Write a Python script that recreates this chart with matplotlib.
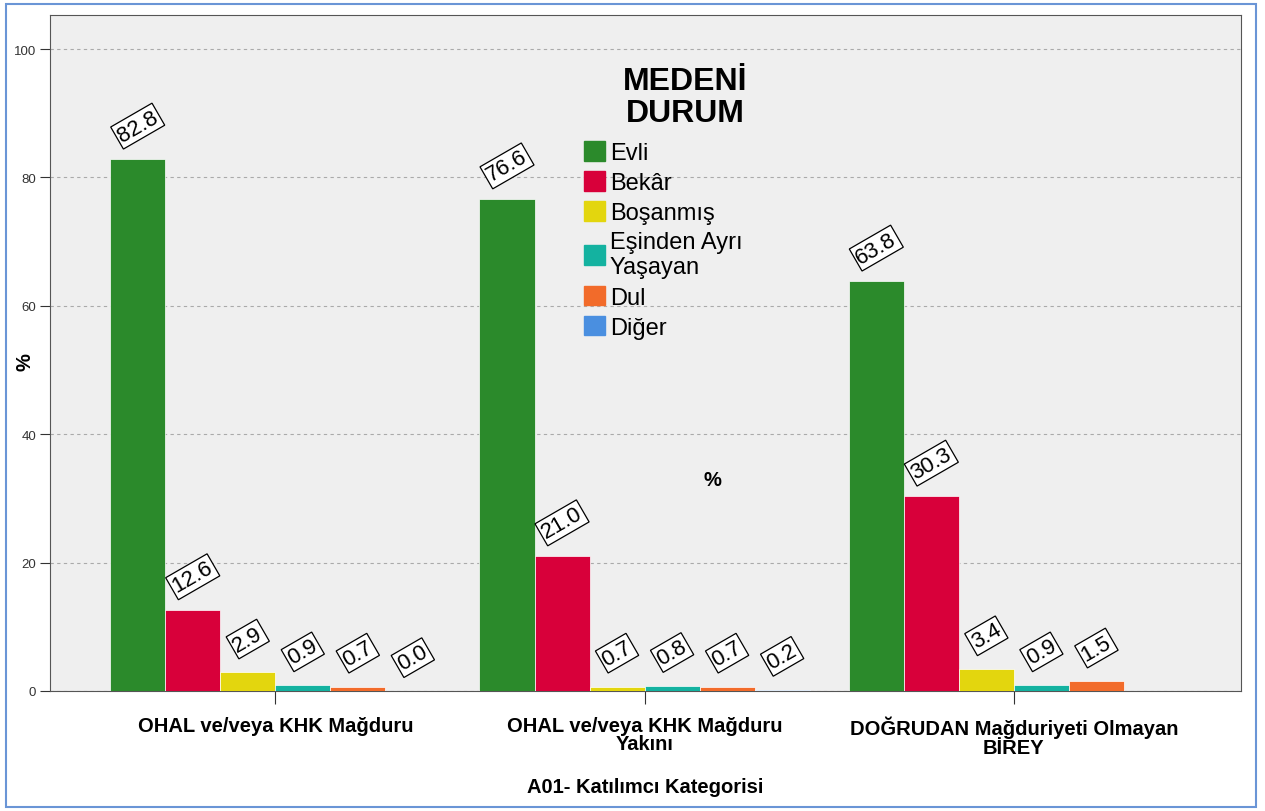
import matplotlib.pyplot as plt
import numpy as np
from matplotlib.patches import Rectangle

plt.rcParams['font.family'] = ['Liberation Sans', 'DejaVu Sans']

# groups on the x axis
groups = ["OHAL ve/veya KHK Mağduru",
          "OHAL ve/veya KHK Mağduru\nYakını",
          "DOĞRUDAN Mağduriyeti Olmayan\nBİREY"]

# marital status categories
statuses = ["Evli", "Bekâr", "Boşanmış", "Eşinden Ayrı\nYaşayan", "Dul", "Diğer"]
colors = ["#2B8A2B", "#D8003A", "#E3D60E", "#14B2A0", "#F26B2A", "#4A8FE0"]

# percentages per status, one value per group
evli = [82.8, 76.6, 63.8]
bekar = [12.6, 21.0, 30.3]
bosanmis = [2.9, 0.7, 3.4]
ayri = [0.9, 0.8, 0.9]
dul = [0.7, 0.7, 1.5]
diger = [0.0, 0.2, np.nan]
series = [evli, bekar, bosanmis, ayri, dul, diger]

W, H = 1265, 812
fig = plt.figure(figsize=(W / 100, H / 100), dpi=100)
ax = fig.add_axes([50 / W, 1 - 692 / H, (1241 - 50) / W, (692 - 16) / H])
ax.set_facecolor("#EFEFEF")

x = np.arange(len(groups))
bw = 0.149
handles = []
for i, (vals, c) in enumerate(zip(series, colors)):
    pos = x + (i - 2.5) * bw
    v = np.array(vals, dtype=float)
    ok = ~np.isnan(v)
    ax.bar(pos[ok], v[ok], width=bw, color=c, edgecolor="white", linewidth=0.5, zorder=3)
    handles.append(Rectangle((0, 0), 1, 1, color=c))
    for px, val in zip(pos[ok], v[ok]):
        ax.annotate(f"{val:.1f}", (px, val), xytext=(0, 24), textcoords="offset points",
                    ha="center", va="center", rotation=30, fontsize=16, zorder=5,
                    bbox=dict(boxstyle="square,pad=0.1", fc="white", ec="black", lw=0.9))

ax.set_xlim(-0.61, 2.615)
ax.set_ylim(0, 105.3)
ax.set_yticks([0, 20, 40, 60, 80, 100])
ax.tick_params(axis="y", labelsize=9.5, length=7, pad=3, colors="#333333")
ax.set_xticks(x)
ax.set_xticklabels(groups, fontsize=14.5, fontweight="bold", linespacing=0.95)
ax.tick_params(axis="x", length=9, pad=9, color="#333333")
ax.grid(axis="y", linestyle=(0, (3, 3)), color="#AAAAAA", linewidth=0.8, zorder=0)
for s in ax.spines.values():
    s.set_color("#555555")

ax.set_xlabel("A01- Katılımcı Kategorisi", fontsize=14.5, fontweight="bold", va="center")
ax.xaxis.set_label_coords(0.5, -(788 - 692) / 676)
ax.set_ylabel("%", fontsize=14.5, fontweight="bold", va="center")
ax.yaxis.set_label_coords(-0.021, 0.488)

ax.text((712 - 50) / 1191, (692 - 481) / 676, "%", transform=ax.transAxes,
        ha="center", va="center", fontsize=14.5, fontweight="bold")

# legend
fig.text(685 / W, 1 - 98 / H, "MEDENİ\nDURUM", ha="center", va="center",
         fontsize=23, fontweight="bold", linespacing=1.05)
leg = ax.legend(handles, statuses, loc="upper left", bbox_to_anchor=(584 / W, 1 - 142 / H),
                bbox_transform=fig.transFigure, frameon=False, fontsize=17,
                handlelength=0.9, handleheight=0.9, handletextpad=0.2,
                labelspacing=0.3, borderpad=0, borderaxespad=0)
for t in leg.get_texts():
    t.set_linespacing(1.2)

# outer blue frame
fig.patches.append(Rectangle((6 / W, 4 / H), 1250 / W, 803 / H, transform=fig.transFigure,
                             fill=False, ec="#6A95D6", lw=1.5))

fig.savefig("out.png", dpi=100)
